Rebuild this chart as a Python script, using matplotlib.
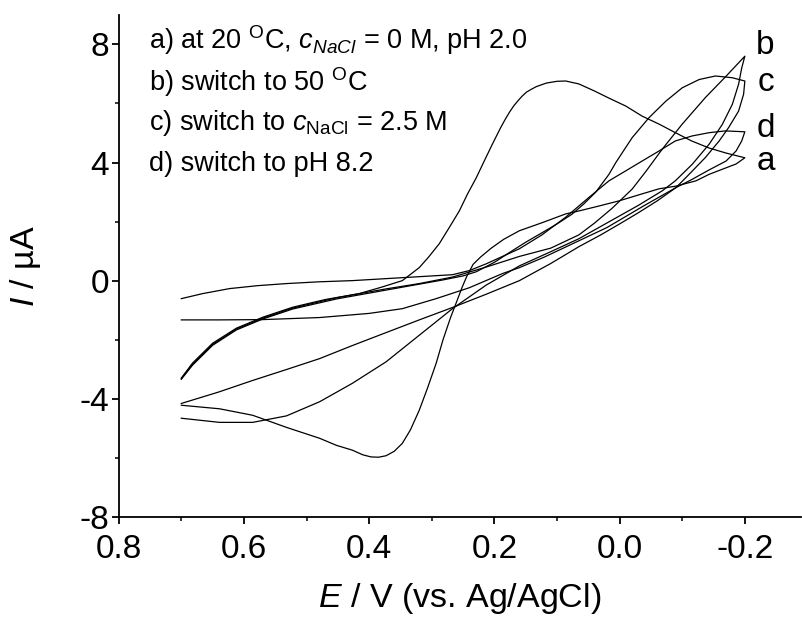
import numpy as np
import matplotlib
matplotlib.use('Agg')
import matplotlib.pyplot as plt
from matplotlib.ticker import MultipleLocator

plt.rcParams['font.family'] = ['Liberation Sans', 'DejaVu Sans']
plt.rcParams['mathtext.fontset'] = 'custom'
plt.rcParams['mathtext.rm'] = 'Liberation Sans'
plt.rcParams['mathtext.it'] = 'Liberation Sans:italic'
plt.rcParams['mathtext.bf'] = 'Liberation Sans:bold'
plt.rcParams['axes.unicode_minus'] = False

# curve a: 20 C, no NaCl, pH 2.0 (forward sweep then return sweep)
a_E_fwd = [0.700, 0.682, 0.650, 0.612, 0.570, 0.522, 0.470, 0.416, 0.380, 0.347, 0.320, 0.305,
           0.288, 0.272, 0.256, 0.243, 0.229, 0.216, 0.203, 0.190, 0.183, 0.176, 0.169, 0.162,
           0.156, 0.149, 0.141, 0.133, 0.117, 0.100, 0.086, 0.065, 0.040, 0.017, -0.010, -0.036,
           -0.063, -0.090, -0.115, -0.143, -0.170, -0.200]
a_I_fwd = [-3.30, -2.79, -2.12, -1.61, -1.24, -0.90, -0.64, -0.44, -0.22, 0.00, 0.44, 0.80,
           1.25, 1.80, 2.36, 2.93, 3.48, 4.06, 4.63, 5.18, 5.45, 5.70, 5.92, 6.10,
           6.24, 6.38, 6.48, 6.57, 6.69, 6.75, 6.76, 6.66, 6.42, 6.18, 5.91, 5.57,
           5.30, 5.00, 4.73, 4.49, 4.32, 4.16]
a_E_rev = [-0.200, -0.186, -0.170, -0.143, -0.122, -0.090, -0.063, -0.030, 0.001, 0.038, 0.065,
           0.086, 0.124, 0.160, 0.185, 0.205, 0.222, 0.234, 0.244, 0.252, 0.260, 0.270, 0.282,
           0.293, 0.307, 0.320, 0.334, 0.347, 0.360, 0.373, 0.385, 0.397, 0.410, 0.427, 0.452,
           0.479, 0.532, 0.586, 0.639, 0.700]
a_I_rev = [4.16, 3.95, 3.82, 3.60, 3.38, 3.20, 3.11, 2.90, 2.70, 2.50, 2.36,
           2.26, 1.96, 1.69, 1.40, 1.10, 0.80, 0.55, 0.15, -0.25, -0.70, -1.25, -2.00,
           -2.80, -3.65, -4.39, -5.05, -5.51, -5.78, -5.93, -5.98, -5.97, -5.90, -5.74, -5.58,
           -5.34, -4.97, -4.56, -4.34, -4.22]

# curve b: switch to 50 C
b_E_fwd = [0.700, 0.682, 0.650, 0.612, 0.570, 0.522, 0.452, 0.373, 0.320, 0.267, 0.213, 0.160,
           0.110, 0.065, 0.040, 0.012, -0.020, -0.042, -0.068, -0.100, -0.137, -0.169, -0.200]
b_I_fwd = [-3.32, -2.83, -2.16, -1.64, -1.27, -0.93, -0.58, -0.28, -0.10, 0.12, 0.46, 0.82,
           1.10, 1.55, 1.95, 2.45, 3.10, 3.70, 4.45, 5.30, 6.20, 6.90, 7.60]
b_E_rev = [-0.200, -0.195, -0.190, -0.180, -0.164, -0.143, -0.116, -0.089, -0.068, -0.030, 0.012,
           0.065, 0.110, 0.160, 0.213, 0.267, 0.320, 0.373, 0.427, 0.479, 0.532, 0.586, 0.639,
           0.700]
b_I_rev = [7.60, 7.20, 6.65, 5.97, 5.29, 4.62, 3.94, 3.38, 3.04, 2.55, 2.05,
           1.42, 0.98, 0.50, -0.15, -0.95, -1.85, -2.75, -3.48, -4.10, -4.58, -4.80, -4.80,
           -4.66]

# curve c: switch to 2.5 M NaCl
c_E_fwd = [0.700, 0.682, 0.650, 0.612, 0.570, 0.522, 0.452, 0.373, 0.320, 0.283, 0.250, 0.229,
           0.200, 0.176, 0.150, 0.124, 0.100, 0.076, 0.057, 0.038, 0.017, 0.006, -0.020, -0.047,
           -0.074, -0.100, -0.127, -0.153, -0.180, -0.200]
c_I_fwd = [-3.34, -2.86, -2.19, -1.67, -1.30, -0.96, -0.62, -0.32, -0.12, 0.02, 0.16, 0.30,
           0.62, 0.95, 1.30, 1.62, 1.92, 2.25, 2.60, 3.00, 3.60, 4.00, 4.84, 5.52,
           6.08, 6.53, 6.81, 6.93, 6.87, 6.76]
c_E_rev = [-0.200, -0.198, -0.190, -0.174, -0.159, -0.137, -0.111, -0.090, -0.060, -0.030, 0.000,
           0.030, 0.065, 0.110, 0.160, 0.213, 0.267, 0.320, 0.373, 0.427, 0.479, 0.532, 0.586,
           0.640, 0.700]
c_I_rev = [6.76, 6.31, 5.74, 5.18, 4.73, 4.17, 3.60, 3.15, 2.70, 2.30, 1.92,
           1.55, 1.15, 0.58, 0.00, -0.46, -0.91, -1.33, -1.76, -2.20, -2.64, -3.01, -3.38,
           -3.77, -4.16]

# curve d: switch to pH 8.2
d_E_fwd = [0.700, 0.666, 0.623, 0.578, 0.532, 0.480, 0.427, 0.347, 0.267, 0.240, 0.213, 0.187,
           0.160, 0.124, 0.086, 0.050, 0.017, -0.010, -0.036, -0.063, -0.089, -0.116, -0.143,
           -0.169, -0.200]
d_I_fwd = [-0.61, -0.44, -0.27, -0.17, -0.10, -0.04, 0.00, 0.10, 0.20, 0.34, 0.57, 0.82,
           1.08, 1.55, 2.15, 2.80, 3.38, 3.72, 4.05, 4.39, 4.73, 4.90, 5.01,
           5.07, 5.04]
d_E_rev = [-0.200, -0.195, -0.186, -0.170, -0.143, -0.115, -0.090, -0.040, 0.020, 0.080, 0.120,
           0.160, 0.187, 0.240, 0.293, 0.347, 0.400, 0.479, 0.570, 0.640, 0.700]
d_I_rev = [5.04, 4.73, 4.39, 4.05, 3.75, 3.42, 3.15, 2.55, 1.80, 1.20, 0.80,
           0.44, 0.24, -0.24, -0.61, -0.95, -1.11, -1.25, -1.32, -1.33, -1.33]

curve_names = ['a', 'b', 'c', 'd']
label_I = [4.05, 7.95, 6.70, 5.15]
legend_lines = [r'a) at 20 $^{\mathrm{O}}$C, $c_{NaCl}$ = 0 M, pH 2.0',
                r'b) switch to 50 $^{\mathrm{O}}$C',
                r'c) switch to $c_{\mathrm{NaCl}}$ = 2.5 M',
                r'd) switch to pH 8.2']

curves = [(a_E_fwd + a_E_rev, a_I_fwd + a_I_rev),
          (b_E_fwd + b_E_rev, b_I_fwd + b_I_rev),
          (c_E_fwd + c_E_rev, c_I_fwd + c_I_rev),
          (d_E_fwd + d_E_rev, d_I_fwd + d_I_rev)]

fig = plt.figure(figsize=(8.02, 6.19), dpi=100)
ax = fig.add_axes([0.148, 0.165, 0.851, 0.811])

for E, I in curves:
    ax.plot(E, I, color='black', lw=0.9)

for name, yi in zip(curve_names, label_I):
    ax.text(-0.233, yi, name, fontsize=24, ha='center', va='center')

ys = [0.935, 0.868, 0.802, 0.735]
for txt, y in zip(legend_lines, ys):
    fig.text(0.186, y, txt, fontsize=19.5, va='center', ha='left')

ax.set_xlim(0.8, -0.29)
ax.set_ylim(-8, 9)
ax.set_xticks([0.8, 0.6, 0.4, 0.2, 0.0, -0.2])
ax.set_xticklabels(['%.1f' % v for v in [0.8, 0.6, 0.4, 0.2, 0.0, -0.2]])
ax.set_yticks([-8, -4, 0, 4, 8])
ax.set_yticklabels(['%d' % v for v in [-8, -4, 0, 4, 8]])
ax.xaxis.set_minor_locator(MultipleLocator(0.1))
ax.yaxis.set_minor_locator(MultipleLocator(2))

for s in ['top', 'right']:
    ax.spines[s].set_visible(False)
for s in ['left', 'bottom']:
    ax.spines[s].set_linewidth(1.3)

ax.tick_params(which='major', direction='out', length=5, width=1.3, labelsize=24)
ax.tick_params(which='minor', direction='out', length=3, width=1.1)
ax.tick_params(axis='x', which='major', pad=7)
ax.tick_params(axis='y', which='major', pad=2)

ax.set_xlabel(r'$E$ / V (vs. Ag/AgCl)', fontsize=24.5, labelpad=12)
ax.set_ylabel(r'$I$ / µA', fontsize=24.5, labelpad=26)

fig.savefig('out.png', dpi=100)
